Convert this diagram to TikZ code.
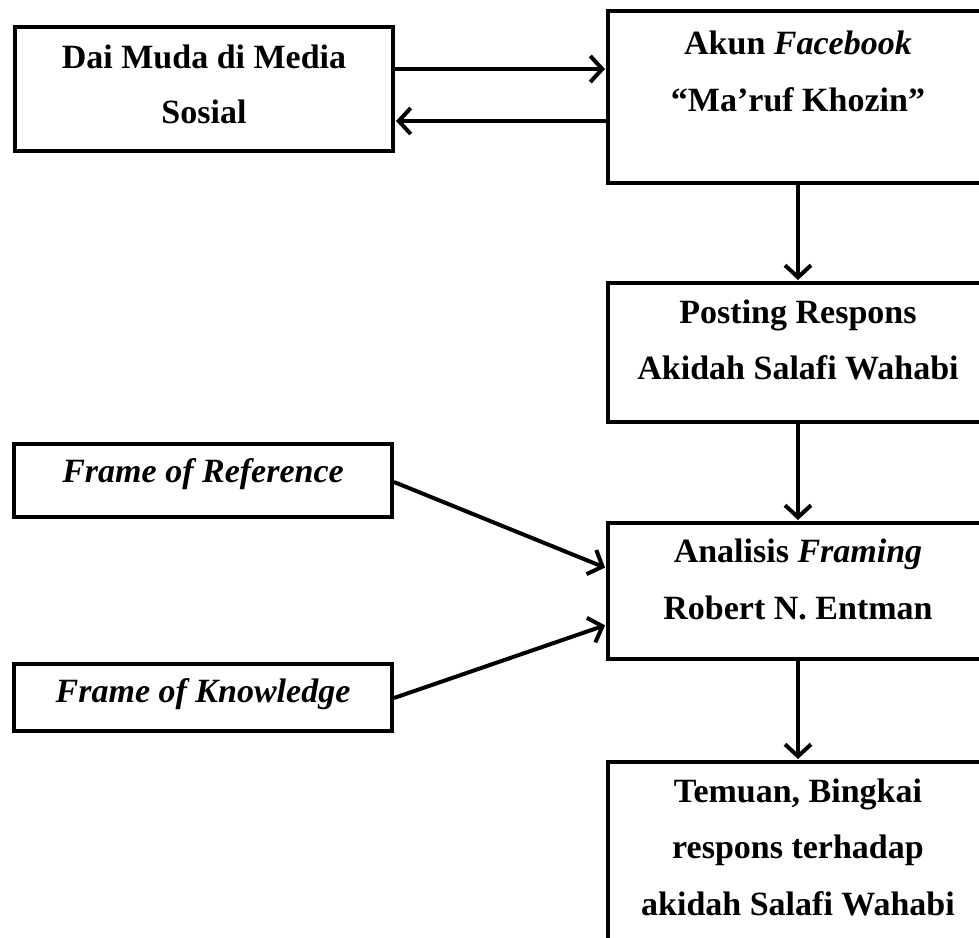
\documentclass[tikz,border=0pt]{standalone}
\usepackage{fontspec}
\setmainfont{Liberation Serif}
\usetikzlibrary{arrows.meta}
\begin{document}
\begin{tikzpicture}[x=1pt,y=-1pt,
  boxnode/.style={draw=black, line width=4pt, fill=white, inner sep=0pt, rectangle},
  txt/.style={anchor=base, inner sep=0pt, font=\bfseries\fontsize{34}{40}\selectfont},
  conn/.style={line width=4pt, -{Straight Barb[length=12pt,width=26pt]}, shorten >=1pt}
]
\path[use as bounding box, clip] (0,0) rectangle (979,937);
\fill[white] (0,0) rectangle (979,937);

% boxes
\node[boxnode, minimum width=378pt, minimum height=124pt] (b1) at (204,89) {};
\node[boxnode, minimum width=380pt, minimum height=172pt] (b2) at (798,97) {};
\node[boxnode, minimum width=380pt, minimum height=139pt] (b3) at (798,352.5) {};
\node[boxnode, minimum width=378pt, minimum height=73pt] (b4) at (203,480.5) {};
\node[boxnode, minimum width=380pt, minimum height=136pt] (b5) at (798,591) {};
\node[boxnode, minimum width=378pt, minimum height=67pt] (b6) at (203,697.5) {};
\node[boxnode, minimum width=380pt, minimum height=200pt] (b7) at (798,862) {};

% texts
\node[txt] (t1a) at (204,68) {Dai Muda di Media};
\node[txt] (t1b) at (204,123) {Sosial};
\node[txt] (t2a) at (798,54) {Akun \textit{Facebook}};
\node[txt] (t2b) at (798,111) {“Ma’ruf Khozin”};
\node[txt] (t3a) at (798,323) {Posting Respons};
\node[txt] (t3b) at (798,379) {Akidah Salafi Wahabi};
\node[txt] (t4) at (203,482) {\textit{Frame of Reference}};
\node[txt] (t5a) at (798,562) {Analisis \textit{Framing}};
\node[txt] (t5b) at (798,619) {Robert N. Entman};
\node[txt] (t6) at (203,702) {\textit{Frame of Knowledge}};
\node[txt] (t7a) at (798,802) {Temuan, Bingkai};
\node[txt] (t7b) at (798,858) {respons terhadap};
\node[txt] (t7c) at (798,915) {akidah Salafi Wahabi};

% connectors
\draw[conn] ([yshift=20pt]b1.east) -- ([yshift=28pt]b2.west);
\draw[conn] ([yshift=-24pt]b2.west) -- ([yshift=-32pt]b1.east);
\draw[conn] (b2.south) -- (b3.north);
\draw[conn] (b3.south) -- (b5.north);
\draw[conn] (b5.south) -- (b7.north);
\draw[conn] ([yshift=-1.5pt]b4.east) -- ([yshift=23pt]b5.west);
\draw[conn] ([yshift=-0.5pt]b6.east) -- ([yshift=-34pt]b5.west);
\end{tikzpicture}
\end{document}
